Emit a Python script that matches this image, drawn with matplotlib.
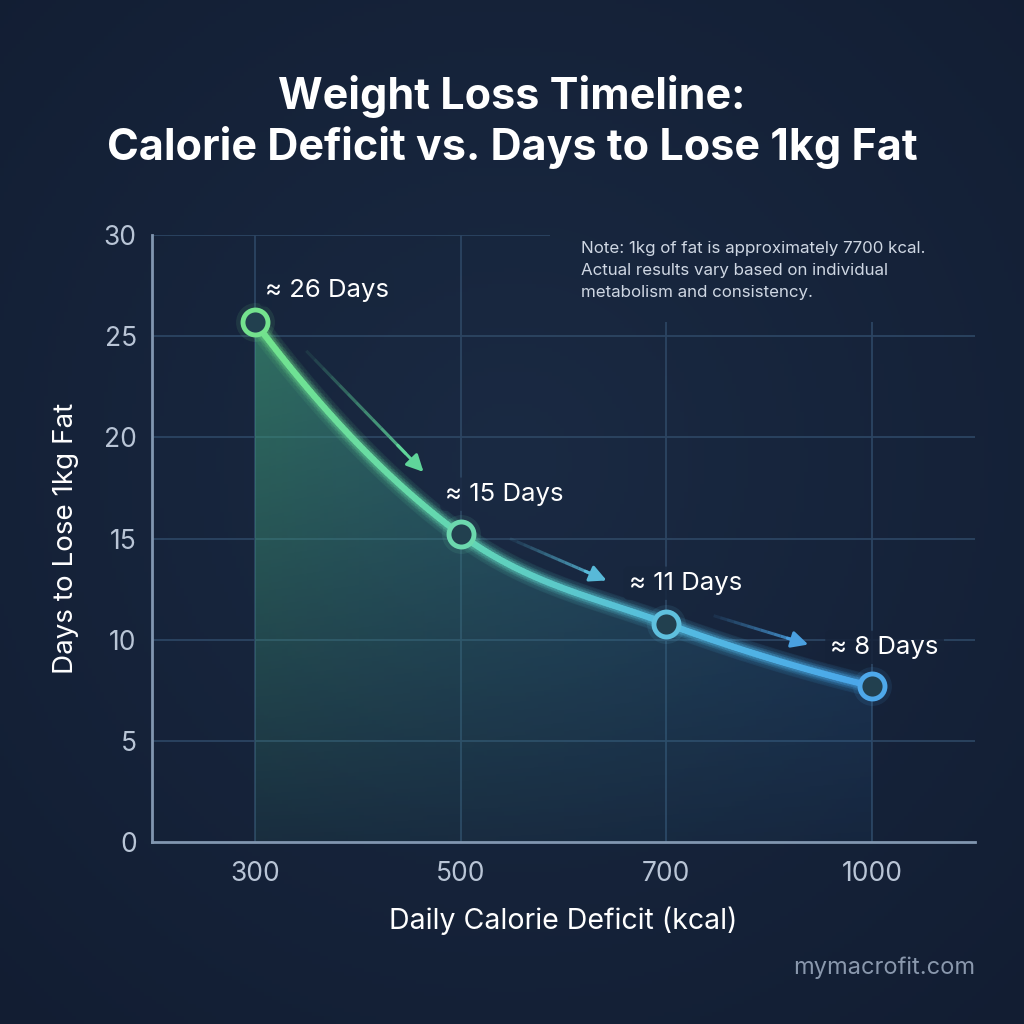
import numpy as np
import matplotlib
matplotlib.use("Agg")
import matplotlib.pyplot as plt
from matplotlib.collections import LineCollection
from matplotlib.colors import LinearSegmentedColormap, to_rgb
from matplotlib.path import Path
from matplotlib.patches import PathPatch
from matplotlib.bezier import BezierSegment

plt.rcParams['font.family'] = ['Inter', 'DejaVu Sans']

# ---------------- data ----------------
categories = ["300", "500", "700", "1000"]
days = [25.7, 15.2, 10.8, 7.7]
labels = ["≈ 26 Days", "≈ 15 Days", "≈ 11 Days", "≈ 8 Days"]
yticks = [0, 5, 10, 15, 20, 25, 30]
title = "Weight Loss Timeline:\nCalorie Deficit vs. Days to Lose 1kg Fat"
xlabel = "Daily Calorie Deficit (kcal)"
ylabel = "Days to Lose 1kg Fat"
note = ("Note: 1kg of fat is approximately 7700 kcal.\n"
        "Actual results vary based on individual\n"
        "metabolism and consistency.")
watermark = "mymacrofit.com"

# ---------------- style ----------------
BG = "#15223a"
GRID = "#2c4562"
SPINE = "#8196b0"
TICK = "#b9c5d6"
GREEN = "#72e48c"
BLUE = "#4aa6ea"
marker_colors = ["#74e28e", "#6cd8ae", "#5fc0de", "#4ea8ea"]
C_IN = np.array(to_rgb("#1a2a43"))
C_OUT = np.array(to_rgb("#121d32"))
CX, CY = 0.5, 0.55  # gradient centre in figure coords


def bg_img(x0, x1, y0, y1, res=256):
    gy, gx = np.mgrid[y0:y1:res * 1j, x0:x1:res * 1j]
    rr = np.sqrt((gx - CX) ** 2 + (gy - CY) ** 2)
    tt = np.clip(rr / 0.75, 0, 1)[..., None]
    return C_IN * (1 - tt) + C_OUT * tt


def bg_at(fx, fy):
    rr = np.sqrt((fx - CX) ** 2 + (fy - CY) ** 2)
    tt = min(rr / 0.75, 1.0)
    return tuple(C_IN * (1 - tt) + C_OUT * tt)


fig = plt.figure(figsize=(10.24, 10.24), dpi=100)
fig.patch.set_facecolor(BG)

# background radial gradient
bg_ax = fig.add_axes([0, 0, 1, 1], zorder=-10)
bg_ax.imshow(bg_img(0, 1, 0, 1), extent=[0, 1, 0, 1], aspect="auto", origin="lower")
bg_ax.axis("off")

ax = fig.add_axes([0.1484, 0.1777, 0.8037, 0.5928], zorder=0)
ax.set_facecolor("none")
x = np.arange(len(categories))
y = np.array(days)
ax.set_xlim(-0.5, 3.5)
ax.set_ylim(0, 30)

# grid
for yt in yticks[1:]:
    ax.axhline(yt, color=GRID, lw=1.3, zorder=1)
for xi in x:
    ax.axvline(xi, color=GRID, lw=1.3, zorder=1)

for s in ["top", "right"]:
    ax.spines[s].set_visible(False)
for s in ["left", "bottom"]:
    ax.spines[s].set_color(SPINE)
    ax.spines[s].set_linewidth(2)
ax.set_xticks(x)
ax.set_xticklabels(categories)
ax.set_yticks(yticks)
ax.tick_params(colors=TICK, labelsize=19, length=0)
ax.tick_params(axis="y", pad=11)
ax.tick_params(axis="x", pad=14)
for lbl in ax.get_xticklabels() + ax.get_yticklabels():
    lbl.set_color(TICK)

# ---------------- smooth curve (Bezier through data points) ----------------
P = np.column_stack([x, y]).astype(float)
n = len(P)
m = np.zeros_like(P)
for i in range(1, n - 1):
    m[i] = (P[i + 1] - P[i - 1]) / 2.0
m[0] = 2 * (P[1] - P[0]) - m[1]
m[-1] = 2 * (P[-1] - P[-2]) - m[-2]

curve = []
verts = [P[0]]
codes = [Path.MOVETO]
for i in range(n - 1):
    p1, p2 = P[i], P[i + 1]
    c1 = p1 + m[i] / 3.0
    c2 = p2 - m[i + 1] / 3.0
    seg = BezierSegment(np.array([p1, c1, c2, p2]))
    pts = seg.point_at_t(np.linspace(0, 1, 60))
    curve.append(pts if i == 0 else pts[1:])
    verts += [c1, c2, p2]
    codes += [Path.CURVE4] * 3
curve = np.vstack(curve)

# fill under curve with gradient, clipped
fill_verts = list(verts) + [np.array([x[-1], 0.0]), np.array([x[0], 0.0]), P[0]]
fill_codes = list(codes) + [Path.LINETO, Path.LINETO, Path.CLOSEPOLY]
clip = PathPatch(Path(fill_verts, fill_codes), facecolor="none", edgecolor="none",
                 transform=ax.transData)
ax.add_patch(clip)
ny, nx = 200, 300
fy, fx = np.mgrid[0:1:ny * 1j, 0:1:nx * 1j]
top_col = np.array(to_rgb("#3f9a78"))
right_col = np.array(to_rgb("#2d6aa0"))
hx = fx[..., None]
col = top_col * (1 - hx) + right_col * hx
alpha = (0.10 + 0.55 * fy) * (1 - 0.25 * fx)
img = np.dstack([col, alpha])
im = ax.imshow(img, extent=[x[0], x[-1], 0, 26], origin="lower",
               aspect="auto", zorder=2, interpolation="bilinear")
im.set_clip_path(clip)

# gradient line with glow
cmap = LinearSegmentedColormap.from_list("gb", [GREEN, "#62d6b4", "#55bce0", BLUE])
segs = np.stack([curve[:-1], curve[1:]], axis=1)
cvals = np.linspace(0, 1, len(segs))
for lw, a in [(16, 0.04), (11, 0.07), (8, 0.12)]:
    lc = LineCollection(segs, cmap=cmap, linewidths=lw, alpha=a, capstyle="round", zorder=3)
    lc.set_array(cvals)
    ax.add_collection(lc)
lc = LineCollection(segs, cmap=cmap, linewidths=4.5, capstyle="round", zorder=4)
lc.set_array(cvals)
ax.add_collection(lc)

# markers with glow
for xi, yi, mc in zip(x, y, marker_colors):
    ax.plot(xi, yi, "o", ms=28, color=mc, alpha=0.10, mec="none", zorder=5)
    ax.plot(xi, yi, "o", ms=18, mfc="#22404f", mec=mc, mew=3.5, zorder=6)

# point labels (offsets in points)
lbl_off = [(7, 23), (-11, 29), (-27, 29), (-30, 28)]
for xi, yi, txt, (dx, dy) in zip(x, y, labels, lbl_off):
    disp = ax.transData.transform((xi, yi))
    ffx, ffy = fig.transFigure.inverted().transform(disp)
    ax.annotate(txt, (xi, yi), xytext=(dx, dy), textcoords="offset points",
                ha="left", va="center", color="white", fontsize=18.5, zorder=7,
                bbox=dict(boxstyle="round,pad=0.2", fc=bg_at(ffx + 0.06, ffy + 0.03),
                          ec="none", alpha=0.85))

# decorative arrows beside curve
arrow_cols = ["#5fd49a", "#58b9d8", "#4aa0e0"]
arrow_t = [(0.25, 0.82), (0.24, 0.71), (0.23, 0.69)]
arrow_dy = [1.2, 0.85, 1.1]
for i in range(len(x) - 1):
    t0, t1 = arrow_t[i]
    x0, x1 = x[i] + t0, x[i] + t1
    y0 = y[i] + (y[i + 1] - y[i]) * t0 + arrow_dy[i]
    y1 = y[i] + (y[i + 1] - y[i]) * t1 + arrow_dy[i]
    k_n = 12
    xs = np.linspace(x0, x0 + (x1 - x0) * 0.85, k_n + 1)
    ys = np.linspace(y0, y0 + (y1 - y0) * 0.85, k_n + 1)
    for k in range(k_n):
        ax.plot(xs[k:k + 2], ys[k:k + 2], color=arrow_cols[i], lw=2.2,
                alpha=0.1 + 0.8 * k / k_n, solid_capstyle="butt", zorder=3)
    ax.annotate("", xy=(x1, y1), xytext=(xs[-2], ys[-2]),
                arrowprops=dict(arrowstyle="-|>,head_length=1.0,head_width=0.5",
                                color=arrow_cols[i], lw=2.2, shrinkA=0, shrinkB=0),
                zorder=3)

# note with seamless background panel hiding grid
px0, py0, pw, ph = 0.537, 0.6855, 0.43, 0.092
panel = fig.add_axes([px0, py0, pw, ph], zorder=1)
panel.imshow(bg_img(px0, px0 + pw, py0, py0 + ph), extent=[0, 1, 0, 1],
             aspect="auto", origin="lower")
panel.axis("off")
fig.text(0.567, 0.765, note, ha="left", va="top", color="#cfd7e3", fontsize=12.2,
         linespacing=1.58, zorder=8)

ax.set_xlabel(xlabel, color="white", fontsize=20.5, labelpad=14)
ax.set_ylabel(ylabel, color="white", fontsize=20, labelpad=18)

fig.text(0.5, 0.881, title, ha="center", va="center", color="white",
         fontsize=31, fontweight="bold", linespacing=1.25)
fig.text(0.952, 0.055, watermark, ha="right", va="center", color="#8a98ad", fontsize=17)

fig.savefig("out.png", dpi=100, facecolor=fig.get_facecolor())
